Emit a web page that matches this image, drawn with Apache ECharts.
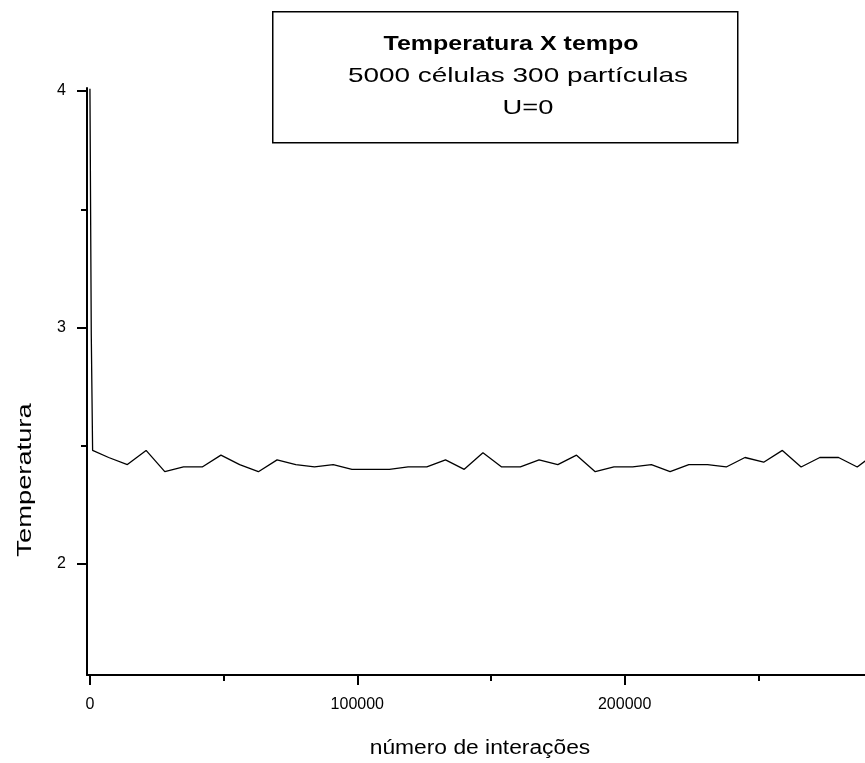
<!DOCTYPE html>
<html><head><meta charset="utf-8">
<script src="https://cdn.jsdelivr.net/npm/echarts@6/dist/echarts.min.js"></script>
<style>html,body{margin:0;padding:0;background:#fff}#c{width:865px;height:763px}</style>
</head><body><div id="c"></div>
<script>
const iteracoes = [0, 500, 1000, 7000, 14000, 21000, 28000, 35000, 42000, 49000, 56000, 63000, 70000, 77000, 84000, 91000, 98000, 105000, 112000, 119000, 126000, 133000, 140000, 147000, 154000, 161000, 168000, 175000, 182000, 189000, 196000, 203000, 210000, 217000, 224000, 231000, 238000, 245000, 252000, 259000, 266000, 273000, 280000, 287000, 294000];
const temperatura = [4.01, 2.97, 2.48, 2.45, 2.42, 2.48, 2.39, 2.41, 2.41, 2.46, 2.42, 2.39, 2.44, 2.42, 2.41, 2.42, 2.40, 2.40, 2.40, 2.41, 2.41, 2.44, 2.40, 2.47, 2.41, 2.41, 2.44, 2.42, 2.46, 2.39, 2.41, 2.41, 2.42, 2.39, 2.42, 2.42, 2.41, 2.45, 2.43, 2.48, 2.41, 2.45, 2.45, 2.41, 2.47];
const xMajorTicks = [0, 100000, 200000];
const xMinorTicks = [50000, 150000, 250000];
const yMajorTicks = [2, 3, 4];
const yMinorTicks = [2.5, 3.5];
const titulo = 'Temperatura X tempo';
const subtitulo1 = '5000 células 300 partículas';
const subtitulo2 = 'U=0';
const nomeX = 'número de interações';
const nomeY = 'Temperatura';

const FONT = '"Liberation Sans", Arial, sans-serif';
const chart = echarts.init(document.getElementById('c'), null, {renderer: 'canvas'});
const common = {fontFamily: FONT, fill: '#000'};
chart.setOption({
  animation: false,
  backgroundColor: '#fff',
  grid: {left: 87, right: 0, top: 88, bottom: 88, containLabel: false},
  xAxis: [{
    type: 'value', min: -1100, max: 289900,
    axisLine: {show: true, onZero: false, lineStyle: {color: '#000', width: 2}},
    axisTick: {show: true, inside: false, length: 10, lineStyle: {color: '#000', width: 2}, customValues: xMajorTicks},
    axisLabel: {show: true, margin: 22, fontFamily: FONT, fontSize: 16, color: '#000', customValues: xMajorTicks, formatter: v => String(v)},
    splitLine: {show: false}
  }, {
    type: 'value', min: -1100, max: 289900, position: 'bottom',
    axisLine: {show: false, onZero: false},
    axisTick: {show: true, length: 6, lineStyle: {color: '#000', width: 2}, customValues: xMinorTicks},
    axisLabel: {show: false},
    splitLine: {show: false}
  }],
  yAxis: [{
    type: 'value', min: 1.53, max: 4.013,
    axisLine: {show: true, onZero: false, lineStyle: {color: '#000', width: 2}},
    axisTick: {show: true, length: 10, lineStyle: {color: '#000', width: 2}, customValues: yMajorTicks},
    axisLabel: {show: true, margin: 21, fontFamily: FONT, fontSize: 16, color: '#000', customValues: yMajorTicks},
    splitLine: {show: false}
  }, {
    type: 'value', min: 1.53, max: 4.013, position: 'left',
    axisLine: {show: false, onZero: false},
    axisTick: {show: true, length: 6, lineStyle: {color: '#000', width: 2}, customValues: yMinorTicks},
    axisLabel: {show: false},
    splitLine: {show: false}
  }],
  series: [{
    type: 'line', xAxisIndex: 0, yAxisIndex: 0,
    data: iteracoes.map((x, i) => [x, temperatura[i]]),
    showSymbol: false, symbol: 'none',
    lineStyle: {color: '#000', width: 1.3},
    clip: true
  }],
  graphic: [
    {type: 'rect', left: 272, top: 11, shape: {width: 465, height: 131},
     style: {fill: '#fff', stroke: '#000', lineWidth: 1.5}},
    {type: 'text', x: 511, y: 44, scaleX: 1.19, style: {text: titulo, ...common, fontSize: 21, fontWeight: 'bold', align: 'center', verticalAlign: 'middle'}},
    {type: 'text', x: 518, y: 76, scaleX: 1.33, style: {text: subtitulo1, ...common, fontSize: 21, align: 'center', verticalAlign: 'middle'}},
    {type: 'text', x: 528, y: 108, scaleX: 1.3, style: {text: subtitulo2, ...common, fontSize: 21, align: 'center', verticalAlign: 'middle'}},
    {type: 'text', x: 480, y: 748, scaleX: 1.14, style: {text: nomeX, ...common, fontSize: 20, align: 'center', verticalAlign: 'middle'}},
    {type: 'text', x: 25, y: 480, rotation: Math.PI / 2, scaleX: 1.3, style: {text: nomeY, ...common, fontSize: 21, align: 'center', verticalAlign: 'middle'}}
  ]
});
</script></body></html>
